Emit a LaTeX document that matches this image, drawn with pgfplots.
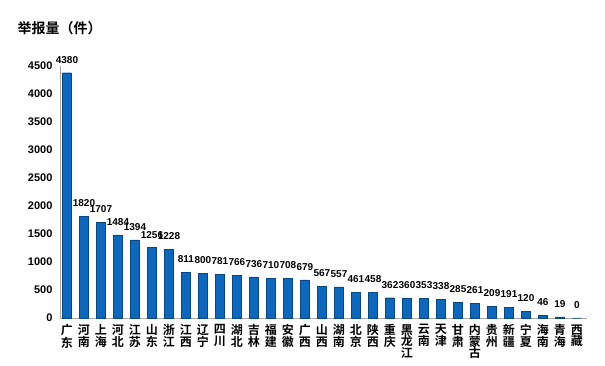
\documentclass[border=0pt]{standalone}
\usepackage{pgfplots}
\pgfplotsset{compat=1.18}
\usepackage{fontspec}
\setmainfont{Liberation Sans}
\newfontfamily\cjk{Noto Sans CJK SC}[BoldFont={Noto Sans CJK SC Bold}]
\definecolor{barblue}{RGB}{12,104,190}
\begin{document}
\begin{tikzpicture}
\useasboundingbox (-60pt,-48pt) rectangle (545pt,318pt);
\begin{axis}[
  scale only axis,
  width=527pt, height=252pt,
  xmin=-0.41, xmax=30.59,
  ymin=0, ymax=4500,
  ytick={0,500,1000,1500,2000,2500,3000,3500,4000,4500},
  xtick={0,...,30},
  xticklabels={{广\\东},{河\\南},{上\\海},{河\\北},{江\\苏},{山\\东},{浙\\江},{江\\西},{辽\\宁},{四\\川},{湖\\北},{吉\\林},{福\\建},{安\\徽},{广\\西},{山\\西},{湖\\南},{北\\京},{陕\\西},{重\\庆},{黑\\龙\\江},{云\\南},{天\\津},{甘\\肃},{内\\蒙\\古},{贵\\州},{新\\疆},{宁\\夏},{海\\南},{青\\海},{西\\藏}},
  xticklabel style={align=center, font=\cjk\bfseries\fontsize{12}{11.5}\selectfont, anchor=north, yshift=-3pt},
  yticklabel style={font=\bfseries\fontsize{11}{13}\selectfont, xshift=-4pt},
  /pgf/number format/assume math mode=true,
  /pgf/number format/1000 sep={},
  major tick length=0pt,
  axis x line*=bottom, axis y line*=left,
  axis line style={draw=gray!70, line width=0.8pt},
  clip=false,
  ybar, bar width=9pt,
  nodes near coords,
  nodes near coords style={font=\bfseries\fontsize{10}{12}\selectfont, black, yshift=6pt},
]
\addplot[draw=barblue!70!black, line width=0.4pt, fill=barblue] coordinates {
(0,4380) (1,1820) (2,1707) (3,1484) (4,1394) (5,1256) (6,1228) (7,811) (8,800) (9,781) (10,766) (11,736) (12,710) (13,708) (14,679) (15,567) (16,557) (17,461) (18,458) (19,362) (20,360) (21,353) (22,338) (23,285) (24,261) (25,209) (26,191) (27,120) (28,46) (29,19) (30,0)
};
\end{axis}
\node[anchor=west, font=\cjk\bfseries\fontsize{14}{16}\selectfont] at (-46pt,290pt) {举报量（件）};
\end{tikzpicture}
\end{document}
